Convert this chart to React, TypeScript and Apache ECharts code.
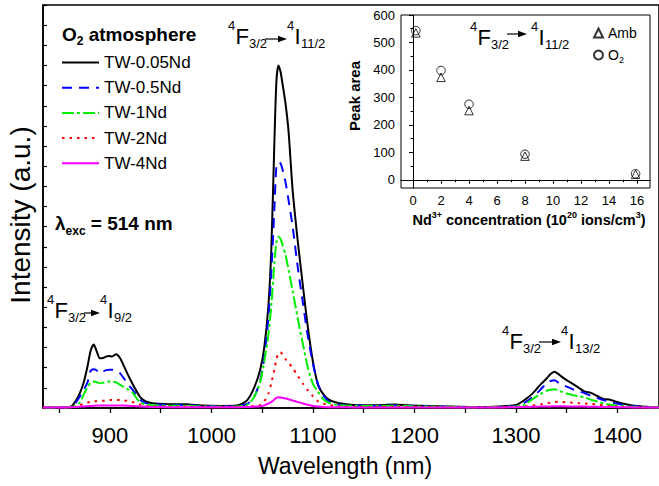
import React, { useEffect, useRef } from 'react';
import * as echarts from 'echarts';

const FONT = '"Liberation Sans", Arial, Helvetica, sans-serif';

// Wavelength grid (nm)
const wavelengths = [
  834, 855, 862, 866, 870, 874, 878, 881, 884, 887,
  890, 893, 896, 899, 902, 906, 910, 914, 918, 922,
  926, 930, 936, 945, 960, 975, 990, 1010, 1025, 1035,
  1042, 1048, 1052, 1056, 1059, 1062, 1064, 1066, 1068, 1070,
  1073, 1076, 1080, 1085, 1090, 1095, 1100, 1105, 1110, 1116,
  1125, 1140, 1160, 1180, 1200, 1230, 1260, 1285, 1300, 1308,
  1316, 1324, 1330, 1334, 1338, 1342, 1346, 1350, 1356, 1362,
  1368, 1374, 1380, 1386, 1392, 1398, 1405, 1415, 1428, 1441,
];

const tw005 = [
  0.02, 0.03, 0.08, 0.33, 0.7, 1.25, 2.1, 2.85, 3.15, 2.8,
  2.47, 2.48, 2.55, 2.58, 2.55, 2.67, 2.47, 2.05, 1.62, 1.22,
  0.85, 0.53, 0.31, 0.22, 0.18, 0.18, 0.12, 0.1, 0.12, 0.38,
  1.0, 1.9, 3.0, 5.0, 7.9, 13.2, 16.2, 17.0, 16.7, 16.1,
  15.1, 13.7, 10.8, 8.3, 6.1, 4.0, 2.3, 1.15, 0.7, 0.4,
  0.25, 0.15, 0.14, 0.17, 0.12, 0.08, 0.05, 0.08, 0.15, 0.38,
  0.7, 1.15, 1.45, 1.67, 1.8, 1.68, 1.52, 1.38, 1.2, 1.0,
  0.81, 0.75, 0.6, 0.45, 0.42, 0.32, 0.22, 0.12, 0.06, 0.04,
];

const tw05 = [
  0.02, 0.03, 0.06, 0.25, 0.55, 0.88, 1.3, 1.85, 1.92, 1.86,
  1.72, 1.8, 1.88, 1.9, 1.9, 1.87, 1.72, 1.45, 1.15, 0.93,
  0.65, 0.4, 0.23, 0.17, 0.15, 0.15, 0.1, 0.08, 0.1, 0.2,
  0.55, 1.35, 2.5, 4.4, 6.75, 9.9, 12.0, 12.2, 12.15, 11.85,
  11.2, 10.3, 9.0, 7.0, 5.25, 3.55, 2.2, 1.18, 0.65, 0.32,
  0.17, 0.12, 0.11, 0.13, 0.1, 0.06, 0.04, 0.06, 0.1, 0.25,
  0.52, 0.9, 1.22, 1.34, 1.38, 1.25, 1.15, 1.06, 0.93, 0.83,
  0.73, 0.6, 0.5, 0.4, 0.31, 0.24, 0.17, 0.1, 0.05, 0.03,
];

const tw1 = [
  0.02, 0.03, 0.05, 0.1, 0.25, 0.65, 1.05, 1.25, 1.31, 1.28,
  1.23, 1.25, 1.28, 1.31, 1.31, 1.27, 1.15, 1.03, 0.92, 0.78,
  0.5, 0.28, 0.16, 0.13, 0.11, 0.11, 0.08, 0.06, 0.08, 0.15,
  0.55, 1.3, 2.3, 3.6, 5.1, 7.2, 8.2, 8.5, 8.4, 8.1,
  7.6, 6.85, 5.8, 4.45, 3.2, 2.0, 1.2, 0.8, 0.45, 0.25,
  0.14, 0.11, 0.1, 0.11, 0.08, 0.05, 0.04, 0.05, 0.08, 0.15,
  0.43, 0.68, 0.85, 0.91, 0.93, 0.86, 0.79, 0.72, 0.64, 0.58,
  0.52, 0.41, 0.32, 0.24, 0.17, 0.13, 0.1, 0.06, 0.04, 0.03,
];

const tw2 = [
  0.02, 0.03, 0.04, 0.06, 0.14, 0.2, 0.27, 0.31, 0.33, 0.34,
  0.35, 0.36, 0.37, 0.39, 0.4, 0.4, 0.39, 0.37, 0.35, 0.3,
  0.23, 0.17, 0.1, 0.07, 0.06, 0.06, 0.05, 0.04, 0.05, 0.07,
  0.1, 0.15, 0.33, 0.7, 1.25, 1.9, 2.42, 2.72, 2.77, 2.65,
  2.42, 2.25, 1.98, 1.6, 1.22, 0.88, 0.58, 0.33, 0.22, 0.15,
  0.08, 0.06, 0.05, 0.06, 0.05, 0.04, 0.03, 0.04, 0.05, 0.07,
  0.12, 0.18, 0.22, 0.26, 0.29, 0.31, 0.3, 0.28, 0.26, 0.24,
  0.22, 0.2, 0.17, 0.13, 0.1, 0.08, 0.06, 0.04, 0.03, 0.02,
];

const tw4 = [
  0.03, 0.03, 0.04, 0.05, 0.06, 0.08, 0.09, 0.1, 0.11, 0.12,
  0.12, 0.13, 0.13, 0.13, 0.13, 0.13, 0.12, 0.12, 0.11, 0.1,
  0.09, 0.08, 0.06, 0.05, 0.04, 0.04, 0.04, 0.04, 0.04, 0.05,
  0.06, 0.09, 0.13, 0.22, 0.3, 0.42, 0.5, 0.53, 0.52, 0.5,
  0.47, 0.43, 0.37, 0.3, 0.23, 0.16, 0.1, 0.07, 0.05, 0.04,
  0.04, 0.03, 0.03, 0.03, 0.03, 0.03, 0.03, 0.03, 0.04, 0.05,
  0.06, 0.07, 0.08, 0.08, 0.09, 0.09, 0.09, 0.08, 0.08, 0.07,
  0.07, 0.06, 0.06, 0.05, 0.05, 0.04, 0.04, 0.03, 0.03, 0.03,
];

const seriesNames = ['TW-0.05Nd', 'TW-0.5Nd', 'TW-1Nd', 'TW-2Nd', 'TW-4Nd'];

// Inset: peak area vs Nd3+ concentration
const concentration = [0.2, 2, 4, 8, 15.9];
const ambArea = [535, 373, 252, 86, 20];
const o2Area = [543, 398, 275, 93, 22];

// Tick values
const xTickValues = [850, 900, 950, 1000, 1050, 1100, 1150, 1200, 1250, 1300, 1350, 1400];
const xLabelValues = [900, 1000, 1100, 1200, 1300, 1400];
const insetXMajor = [0, 2, 4, 6, 8, 10, 12, 14, 16];
const insetXMinor = [1, 3, 5, 7, 9, 11, 13, 15];
const insetYMajor = [0, 100, 200, 300, 400, 500, 600];
const insetYMinor = [50, 150, 250, 350, 450, 550];

function arrow(x0: number, x1: number, y: number) {
  return [
    { type: 'line', z: 100, shape: { x1: x0, y1: y, x2: x1 - 6, y2: y }, style: { stroke: '#000', lineWidth: 1.2 } },
    { type: 'polygon', z: 100, shape: { points: [[x1 - 9, y - 3.2], [x1, y], [x1 - 9, y + 3.2]] }, style: { fill: '#000' } },
  ];
}

function txt(x: number, y: number, text: string, size: number, extra: any = {}) {
  return {
    type: 'text', x, y, z: 100,
    style: { text, fontSize: size, fontFamily: FONT, fill: '#000', align: 'left', verticalAlign: 'middle', ...extra },
  };
}

function transition(p: any) {
  return [
    txt(p.x4a, p.yc - 10.5, '4', 13),
    txt(p.x4a + 7.5, p.yc, 'F', 22),
    txt(p.x4a + 21, p.yc + 7, '3/2', 13),
    ...arrow(p.ax0, p.ax1, p.ay),
    txt(p.x4b, p.yc - 10.5, '4', 13),
    txt(p.x4b + 7.5, p.yc, 'I', 22),
    txt(p.x4b + 14, p.yc + 7, p.s2, 13),
  ];
}

function buildOption(): any {
  const mk = (arr: number[]) => wavelengths.map((w, i) => [w, arr[i]]);
  const colors = ['#000000', '#0000ff', '#00ee00', '#ff0000', '#ff00ff'];
  const types: any[] = ['solid', [10, 7], [12, 3, 3, 3], [2.5, 5], 'solid'];
  const datas = [tw005, tw05, tw1, tw2, tw4];

  const lineSeries = datas.map((d, i) => ({
    name: seriesNames[i],
    type: 'line',
    xAxisIndex: 0,
    yAxisIndex: 0,
    data: mk(d),
    symbol: 'none',
    smooth: 0.25,
    color: colors[i],
    lineStyle: { color: colors[i], width: 2, type: types[i] },
    z: 2 + i,
  }));

  const axisBlack = { lineStyle: { color: '#000', width: 1.6 } };

  return {
    animation: false,
    backgroundColor: '#fff',
    grid: [
      { left: 43, top: 5, right: -2, bottom: 78, show: true, borderColor: '#000', borderWidth: 1.6, backgroundColor: 'transparent' },
      { left: 401, top: 15, width: 249, height: 173, show: true, borderColor: '#000', borderWidth: 1, backgroundColor: '#fff', z: 10 },
    ],
    xAxis: [
      {
        type: 'value', gridIndex: 0, min: 834, max: 1441,
        axisLine: axisBlack,
        axisTick: { customValues: xTickValues, length: 5, lineStyle: { color: '#000', width: 1.3 } },
        axisLabel: {
          customValues: xLabelValues, fontSize: 22, color: '#000', fontFamily: FONT, margin: 27, verticalAlign: 'middle',
          formatter: (v: number) => String(v),
        },
        splitLine: { show: false },
      },
      {
        type: 'value', gridIndex: 1, min: -0.86, max: 16.93,
        axisLine: { lineStyle: { color: '#000', width: 1 } },
        axisTick: { customValues: insetXMajor, length: 4, lineStyle: { color: '#000', width: 1 } },
        axisLabel: {
          customValues: insetXMajor, fontSize: 13, color: '#000', fontFamily: FONT, margin: 12, verticalAlign: 'middle',
          formatter: (v: number) => String(v),
        },
        splitLine: { show: false },
        z: 11,
      },
      {
        type: 'value', gridIndex: 1, min: -0.86, max: 16.93, position: 'bottom',
        axisLine: { show: false },
        axisTick: { customValues: insetXMinor, length: 2.5, lineStyle: { color: '#000', width: 1 } },
        axisLabel: { show: false },
        splitLine: { show: false },
        z: 11,
      },
    ],
    yAxis: [
      {
        type: 'value', gridIndex: 0, min: 0, max: 20, interval: 1,
        axisLine: { show: true, ...axisBlack },
        axisTick: { show: true, inside: true, length: 4, lineStyle: { color: '#000', width: 1.2 } },
        axisLabel: { show: false },
        splitLine: { show: false },
      },
      {
        type: 'value', gridIndex: 1, min: -30, max: 600,
        axisLine: { show: true, lineStyle: { color: '#000', width: 1 } },
        axisTick: { show: true, customValues: insetYMajor, length: 4, lineStyle: { color: '#000', width: 1 } },
        axisLabel: {
          customValues: insetYMajor, fontSize: 13, color: '#000', fontFamily: FONT, margin: 6,
          formatter: (v: number) => String(v),
        },
        splitLine: { show: false },
        z: 11,
      },
      {
        type: 'value', gridIndex: 1, min: -30, max: 600, position: 'left',
        axisLine: { show: false },
        axisTick: { show: true, customValues: insetYMinor, length: 2.5, lineStyle: { color: '#000', width: 1 } },
        axisLabel: { show: false },
        splitLine: { show: false },
        z: 11,
      },
    ],
    legend: [
      {
        data: seriesNames,
        orient: 'vertical', left: 61, top: 54, padding: 0,
        itemWidth: 37, itemHeight: 18, itemGap: 8.2, itemStyle: { opacity: 0 },
        textStyle: { fontSize: 17, color: '#000', fontFamily: FONT },
        selectedMode: false,
      },
      {
        data: ['Amb', 'O2'],
        orient: 'vertical', left: 593, top: 24, padding: 0,
        itemWidth: 9, itemHeight: 9, itemGap: 4,
        textStyle: {
          fontSize: 14, color: '#000', fontFamily: FONT, lineHeight: 18,
          rich: {
            n: { fontSize: 14, fontFamily: FONT, color: '#000', lineHeight: 18 },
            s: { fontSize: 9, fontFamily: FONT, color: '#000', verticalAlign: 'bottom', lineHeight: 10 },
          },
        },
        formatter: (name: string) => (name === 'O2' ? '{n|O}{s|2}' : '{n|' + name + '}'),
        selectedMode: false,
        z: 20,
      },
    ],
    series: [
      ...lineSeries,
      {
        name: 'Amb', type: 'scatter', xAxisIndex: 1, yAxisIndex: 1,
        data: concentration.map((c, i) => [c, ambArea[i]]),
        symbol: 'triangle', symbolSize: 8.5,
        itemStyle: { color: 'rgba(0,0,0,0)', borderColor: '#000', borderWidth: 1 },
        z: 12,
      },
      {
        name: 'O2', type: 'scatter', xAxisIndex: 1, yAxisIndex: 1,
        data: concentration.map((c, i) => [c, o2Area[i]]),
        symbol: 'circle', symbolSize: 8.5,
        itemStyle: { color: 'rgba(0,0,0,0)', borderColor: '#000', borderWidth: 1 },
        z: 12,
      },
    ],
    graphic: [
      // axis titles
      { ...txt(20, 215, 'Intensity (a.u.)', 28, { align: 'center' }), rotation: Math.PI / 2 },
      txt(345, 466, 'Wavelength (nm)', 23, { align: 'center' }),
      // O2 atmosphere
      {
        type: 'text', x: 62, y: 34, z: 100,
        style: {
          text: '{b|O}{s|2}{b| atmosphere}', fontFamily: FONT, fill: '#000', verticalAlign: 'middle', align: 'left',
          rich: {
            b: { fontSize: 19, fontWeight: 'bold', fontFamily: FONT, fill: '#000', lineHeight: 26 },
            s: { fontSize: 12, fontWeight: 'bold', fontFamily: FONT, fill: '#000', verticalAlign: 'bottom', lineHeight: 12 },
          },
        },
      },
      // lambda exc
      {
        type: 'text', x: 55, y: 223, z: 100,
        style: {
          text: '{b|λ}{s|exc}{b| = 514 nm}', fontFamily: FONT, fill: '#000', verticalAlign: 'middle', align: 'left',
          rich: {
            b: { fontSize: 19, fontWeight: 'bold', fontFamily: FONT, fill: '#000', lineHeight: 28 },
            s: { fontSize: 12, fontWeight: 'bold', fontFamily: FONT, fill: '#000', verticalAlign: 'bottom', lineHeight: 12 },
          },
        },
      },
      // inset axis titles
      {
        type: 'text', x: 354, y: 96, rotation: Math.PI / 2, z: 100,
        style: { text: 'Peak area', fontSize: 15, fontWeight: 'bold', fontFamily: FONT, fill: '#000', align: 'center', verticalAlign: 'middle' },
      },
      {
        type: 'text', x: 529, y: 220, z: 100,
        style: {
          text: '{b|Nd}{s|3+}{b| concentration (10}{s|20}{b| ions/cm}{s|3}{b|)}',
          fontFamily: FONT, fill: '#000', align: 'center', verticalAlign: 'middle',
          rich: {
            b: { fontSize: 14.5, fontWeight: 'bold', fontFamily: FONT, fill: '#000', lineHeight: 20 },
            s: { fontSize: 9, fontWeight: 'bold', fontFamily: FONT, fill: '#000', verticalAlign: 'top', lineHeight: 10 },
          },
        },
      },
      // transition labels
      ...transition({ x4a: 228, ax0: 265, ax1: 287, ay: 39, x4b: 287, yc: 36, s2: '11/2' }),
      ...transition({ x4a: 47, ax0: 84, ax1: 100, ay: 313, x4b: 100, yc: 310, s2: '9/2' }),
      ...transition({ x4a: 502, ax0: 539, ax1: 561, ay: 342, x4b: 561, yc: 341, s2: '13/2' }),
      ...transition({ x4a: 470, ax0: 507, ax1: 527, ay: 34, x4b: 531, yc: 37, s2: '11/2' }),
    ],
  };
}

export default function App() {
  const ref = useRef<HTMLDivElement>(null);
  useEffect(() => {
    if (!ref.current) return;
    const chart = echarts.init(ref.current, null, { renderer: 'svg' });
    chart.setOption(buildOption());
    return () => chart.dispose();
  }, []);
  return (
    <div
      ref={ref}
      style={{ position: 'absolute', left: 0, top: 0, width: 659, height: 486, background: '#fff' }}
    />
  );
}
